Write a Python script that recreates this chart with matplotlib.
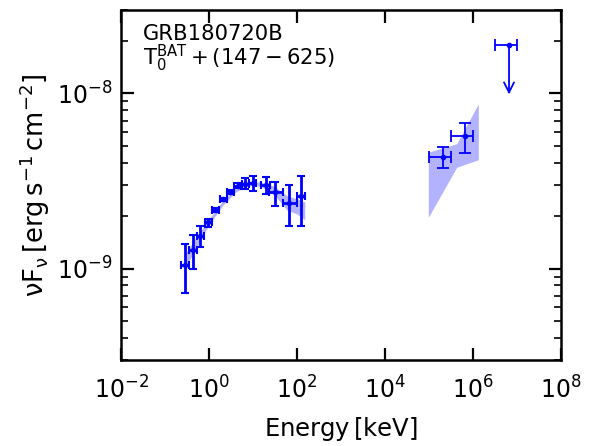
import numpy as np
import matplotlib
matplotlib.use('Agg')
import matplotlib.pyplot as plt

plt.rcParams['mathtext.default'] = 'regular'

# XRT + BAT spectral points (keV, erg s^-1 cm^-2)
E_low = [0.285, 0.427, 0.634, 0.964, 1.42, 2.08, 3.05, 4.49, 6.58, 9.84, 19.7, 31.6, 66.8, 121.0]
E_low_lo = [0.231, 0.35, 0.53, 0.80, 1.19, 1.74, 2.55, 3.75, 5.5, 8.2, 15.2, 23.1, 48.9, 98.4]
E_low_hi = [0.356, 0.52, 0.77, 1.17, 1.72, 2.52, 3.70, 5.45, 8.0, 11.9, 24.3, 47.3, 98.4, 152.0]
F_low = [1.054e-9, 1.284e-9, 1.538e-9, 1.832e-9, 2.155e-9, 2.48e-9, 2.75e-9, 2.98e-9,
         3.05e-9, 3.07e-9, 2.99e-9, 2.72e-9, 2.37e-9, 2.58e-9]
F_low_up = [1.38e-9, 1.563e-9, 1.754e-9, 1.92e-9, 2.22e-9, 2.54e-9, 2.82e-9, 3.08e-9,
            3.30e-9, 3.36e-9, 3.32e-9, 3.14e-9, 3.00e-9, 3.37e-9]
F_low_dn = [7.26e-10, 9.96e-10, 1.324e-9, 1.72e-9, 2.09e-9, 2.42e-9, 2.68e-9, 2.88e-9,
            2.83e-9, 2.79e-9, 2.67e-9, 2.29e-9, 1.76e-9, 1.76e-9]

# model band for low energies
band_E = [0.28, 0.5, 1.0, 2.0, 4.0, 8.0, 15.0, 30.0, 60.0, 100.0, 150.0]
band_up = [1.20e-9, 1.50e-9, 1.92e-9, 2.42e-9, 2.87e-9, 3.12e-9, 3.12e-9, 2.95e-9, 2.60e-9, 2.50e-9, 2.40e-9]
band_dn = [1.00e-9, 1.30e-9, 1.78e-9, 2.28e-9, 2.73e-9, 2.98e-9, 2.95e-9, 2.65e-9, 2.15e-9, 2.05e-9, 1.90e-9]

# LAT points
E_lat = [2.05e5, 6.68e5]
E_lat_lo = [1.0e5, 3.16e5]
E_lat_hi = [3.21e5, 1.02e6]
F_lat = [4.35e-9, 5.68e-9]
F_lat_up = [4.93e-9, 6.81e-9]
F_lat_dn = [3.76e-9, 4.58e-9]

# LAT band
lat_band_E = [9.64e4, 4.26e5, 1.32e6]
lat_band_up = [4.62e-9, 5.16e-9, 8.73e-9]
lat_band_dn = [1.96e-9, 3.79e-9, 4.18e-9]

# upper limit
E_ul = [6.58e6]
E_ul_lo = [3.16e6]
E_ul_hi = [1.02e7]
F_ul = [1.9e-8]

fig = plt.figure(figsize=(5.95, 4.46), dpi=100)
ax = fig.add_axes([0.2034, 0.1928, 0.7395, 0.7848])

ax.fill_between(band_E, band_dn, band_up, color='blue', alpha=0.3, lw=0)
ax.fill_between(lat_band_E, lat_band_dn, lat_band_up, color='blue', alpha=0.3, lw=0)

E_low = np.array(E_low)
F_low = np.array(F_low)
xerr = [E_low - np.array(E_low_lo), np.array(E_low_hi) - E_low]
yerr = [F_low - np.array(F_low_dn), np.array(F_low_up) - F_low]
ax.errorbar(E_low, F_low, xerr=xerr, yerr=yerr, fmt='o', color='blue', ms=3,
            elinewidth=2, capsize=3, capthick=1.5)

E_lat = np.array(E_lat)
F_lat = np.array(F_lat)
xerr = [E_lat - np.array(E_lat_lo), np.array(E_lat_hi) - E_lat]
yerr = [F_lat - np.array(F_lat_dn), np.array(F_lat_up) - F_lat]
ax.errorbar(E_lat, F_lat, xerr=xerr, yerr=yerr, fmt='o', color='blue', ms=3,
            elinewidth=1.3, capsize=4, capthick=1.3)

# upper limit with arrow
E_ul = np.array(E_ul)
F_ul = np.array(F_ul)
xerr = [E_ul - np.array(E_ul_lo), np.array(E_ul_hi) - E_ul]
ax.errorbar(E_ul, F_ul, xerr=xerr, fmt='o', color='blue', ms=3,
            elinewidth=1.3, capsize=4, capthick=1.3)
ax.annotate('', xy=(E_ul[0], F_ul[0] * 0.52), xytext=(E_ul[0], F_ul[0]),
            arrowprops=dict(arrowstyle='->', color='blue', lw=1.3, mutation_scale=18,
                            shrinkA=0, shrinkB=0))

ax.set_xscale('log')
ax.set_yscale('log')
ax.set_xlim(1e-2, 1e8)
ax.set_ylim(3e-10, 3e-8)
ax.set_xticks([1e-2, 1, 1e2, 1e4, 1e6, 1e8])
ax.xaxis.set_minor_locator(matplotlib.ticker.NullLocator())
ax.set_yticks([1e-9, 1e-8])
ax.yaxis.set_minor_locator(matplotlib.ticker.LogLocator(base=10, subs=np.arange(2, 10)))
ax.yaxis.set_minor_formatter(matplotlib.ticker.NullFormatter())

for s in ax.spines.values():
    s.set_linewidth(1.8)
ax.tick_params(which='both', direction='in', top=True, right=True, labelsize=17)
ax.tick_params(which='major', length=9, width=1.6)
ax.tick_params(which='minor', length=5, width=1.2)
ax.tick_params(axis='x', pad=12)
ax.tick_params(axis='y', pad=6)

ax.set_xlabel(r'Energy$\,$[keV]', fontsize=17.5, labelpad=8)
ax.set_ylabel(r'$\nu F_{\nu}\,[erg\,s^{-1}\,cm^{-2}]$', fontsize=18.5, labelpad=4)

ax.text(0.05, 0.96, 'GRB180720B\n' + r'$T_0^{BAT} + (147-625)$', transform=ax.transAxes,
        fontsize=15.2, va='top', ha='left', linespacing=0.95)

fig.savefig('out.png', dpi=100)
